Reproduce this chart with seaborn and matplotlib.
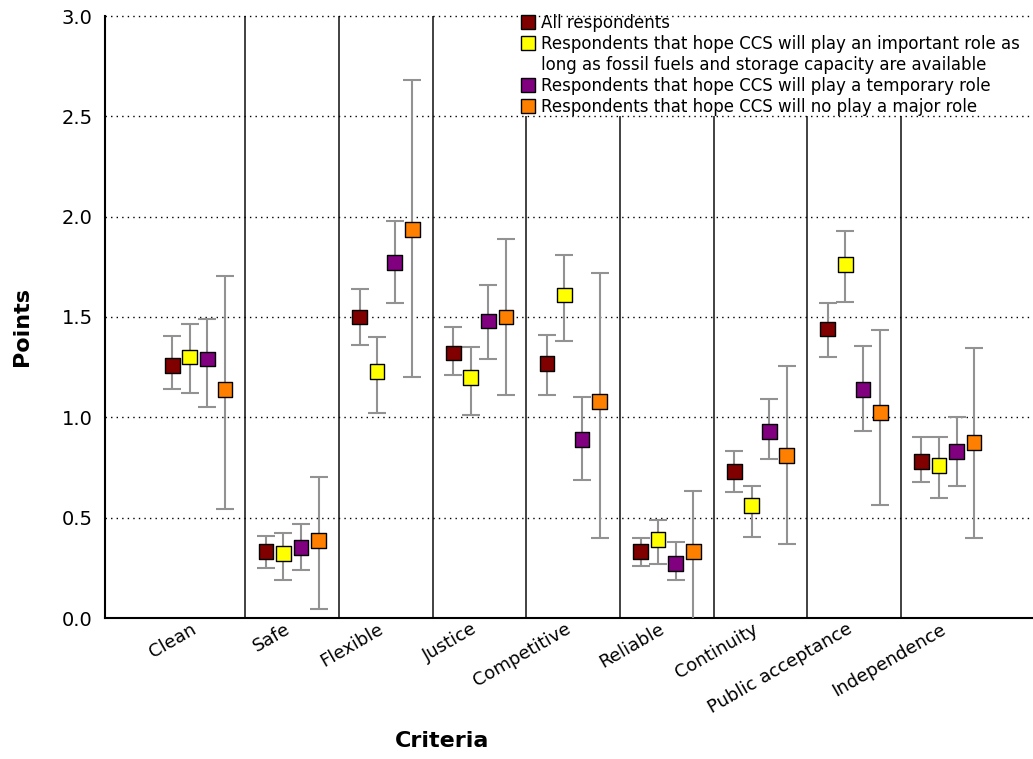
import numpy as np
import pandas as pd
import matplotlib
matplotlib.use("Agg")
import matplotlib.pyplot as plt
from matplotlib.lines import Line2D
from matplotlib.transforms import ScaledTranslation
import seaborn as sns

categories = ["Clean", "Safe", "Flexible", "Justice", "Competitive",
              "Reliable", "Continuity", "Public acceptance", "Independence"]

label_lines = ["All respondents",
               "Respondents that hope CCS will play an important role as",
               "long as fossil fuels and storage capacity are available",
               "Respondents that hope CCS will play a temporary role",
               "Respondents that hope CCS will no play a major role"]

all_mean = [1.26, 0.33, 1.50, 1.32, 1.27, 0.33, 0.73, 1.44, 0.78]
all_lo   = [1.14, 0.25, 1.36, 1.21, 1.11, 0.26, 0.63, 1.30, 0.68]
all_hi   = [1.405, 0.41, 1.64, 1.45, 1.41, 0.40, 0.83, 1.57, 0.90]

imp_mean = [1.30, 0.32, 1.23, 1.20, 1.61, 0.39, 0.56, 1.76, 0.76]
imp_lo   = [1.12, 0.19, 1.02, 1.01, 1.38, 0.27, 0.405, 1.575, 0.60]
imp_hi   = [1.465, 0.425, 1.40, 1.35, 1.81, 0.49, 0.66, 1.93, 0.90]

tmp_mean = [1.29, 0.35, 1.77, 1.48, 0.89, 0.27, 0.93, 1.14, 0.83]
tmp_lo   = [1.05, 0.24, 1.57, 1.29, 0.69, 0.19, 0.79, 0.93, 0.66]
tmp_hi   = [1.49, 0.47, 1.98, 1.66, 1.10, 0.38, 1.09, 1.355, 1.00]

no_mean  = [1.14, 0.385, 1.935, 1.50, 1.08, 0.33, 0.81, 1.025, 0.875]
no_lo    = [0.545, 0.045, 1.20, 1.11, 0.40, -0.03, 0.37, 0.565, 0.40]
no_hi    = [1.705, 0.705, 2.68, 1.89, 1.72, 0.635, 1.255, 1.435, 1.345]

y_ticks = [0, 0.5, 1.0, 1.5, 2.0, 2.5, 3.0]
y_ticklabels = ["0.0", "0.5", "1.0", "1.5", "2.0", "2.5", "3.0"]

colors = ["#800000", "#FFFF00", "#800080", "#FF8000"]
offsets = [-0.281, -0.094, 0.094, 0.281]

sns.set_style("white")
plt.rcParams["font.family"] = ["DejaVu Sans"]
plt.rcParams["text.color"] = "black"
plt.rcParams["xtick.color"] = "black"
plt.rcParams["ytick.color"] = "black"
plt.rcParams["axes.labelcolor"] = "black"

fig = plt.figure(figsize=(10.33, 7.59), dpi=100)
ax = fig.add_axes([105/1033, 141/759, 928/1033, 602/759])

means = [all_mean, imp_mean, tmp_mean, no_mean]
los = [all_lo, imp_lo, tmp_lo, no_lo]
his = [all_hi, imp_hi, tmp_hi, no_hi]

idx = np.arange(len(categories))
rows = []
for s, (m, lo, hi, off) in enumerate(zip(means, los, his, offsets)):
    m = np.array(m); lo = np.array(lo); hi = np.array(hi)
    x = idx + off
    ax.errorbar(x, m, yerr=[m - lo, hi - m], fmt="none", ecolor="#929292",
                elinewidth=1.5, capsize=6.4, capthick=1.5, zorder=3)
    for xi, yi in zip(x, m):
        rows.append({"x": xi, "y": yi, "series": str(s)})

df = pd.DataFrame(rows)
sns.scatterplot(data=df, x="x", y="y", hue="series", palette=colors,
                marker="s", s=112, edgecolor="black", linewidth=1.0,
                legend=False, zorder=5, ax=ax)

# category separators
for k in range(len(categories) - 1):
    top = 3.0 if k < 3 else 2.5
    ax.vlines(k + 0.5, 0, top, colors="#333333", linewidth=1.3, zorder=1)

ax.set_xlim(-1.0, 8.91)
ax.set_ylim(0, 3.0)
ax.set_yticks(y_ticks)
ax.set_yticklabels(y_ticklabels, fontsize=14)
ax.set_xticks(idx)
ax.set_xticklabels(categories, fontsize=13, rotation=30, ha="right",
                   rotation_mode="anchor")
ax.tick_params(axis="both", length=0)
ax.tick_params(axis="y", pad=9)
ax.tick_params(axis="x", pad=1.5)
shift = ScaledTranslation(-8/100, 0, fig.dpi_scale_trans)
for tick in ax.xaxis.get_major_ticks():
    tick.label1.set_transform(tick.label1.get_transform() + shift)

for yv in y_ticks[1:]:
    ax.axhline(yv, color="black", linewidth=1.0, linestyle=(0, (1, 3)), zorder=2,
               clip_on=False)

for side in ["top", "right"]:
    ax.spines[side].set_visible(False)
for side in ["left", "bottom"]:
    ax.spines[side].set_color("black")
    ax.spines[side].set_linewidth(1.5)

ax.set_xlabel("")
ax.set_ylabel("")
fig.text(442/1033, 1 - 741/759, "Criteria", fontsize=16, fontweight="bold",
         ha="center", va="center", color="black")
fig.text(22/1033, 1 - 327/759, "Points", fontsize=16, fontweight="bold",
         ha="center", va="center", rotation=90, color="black")

handle_colors = [colors[0], colors[1], None, colors[2], colors[3]]
handles = []
for c in handle_colors:
    if c is None:
        handles.append(Line2D([], [], linestyle="none", marker="s",
                              markerfacecolor="none", markeredgecolor="none",
                              markersize=10))
    else:
        handles.append(Line2D([], [], linestyle="none", marker="s",
                              markerfacecolor=c, markeredgecolor="black",
                              markeredgewidth=1.0, markersize=10))
fig.legend(handles, label_lines, loc="upper left",
           bbox_to_anchor=(520/1033, 1 - 14/759), frameon=False,
           fontsize=12, handlelength=1.0, handletextpad=0.25,
           labelspacing=0.18, borderpad=0, borderaxespad=0,
           labelcolor="black")

fig.savefig("out.png", dpi=100)
